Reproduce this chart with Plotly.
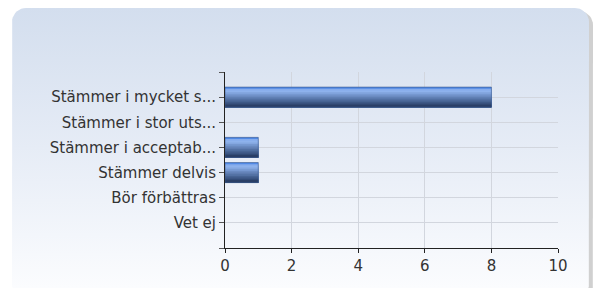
import plotly.graph_objects as go
import numpy as np

categories = ["Stämmer i mycket s...", "Stämmer i stor uts...", "Stämmer i acceptab...",
              "Stämmer delvis", "Bör förbättras", "Vet ej"]
values = [8, 0, 1, 1, 0, 0]
x_ticks = [0, 2, 4, 6, 8, 10]

W, H = 594, 288
L, R, T, B = 225, 558, 72, 248

fig = go.Figure()

# rounded card background on a full-page pixel axis (xaxis/yaxis)
def rounded_rect(x0, y0, x1, y1, r, n=10):
    xs, ys = [], []
    corners = [(x1 - r, y0 + r, -90, 0), (x1 - r, y1 - r, 0, 90),
               (x0 + r, y1 - r, 90, 180), (x0 + r, y0 + r, 180, 270)]
    for cx, cy, a0, a1 in corners:
        for a in np.linspace(np.radians(a0), np.radians(a1), n):
            xs.append(cx + r * np.cos(a))
            ys.append(cy + r * np.sin(a))
    xs.append(xs[0]); ys.append(ys[0])
    return xs, ys

sx, sy = rounded_rect(15, 11, 593, 300, 14)
fig.add_trace(go.Scatter(x=sx, y=sy, fill="toself", mode="lines", line=dict(width=0),
                         fillcolor="rgba(150,150,150,0.45)", hoverinfo="skip", showlegend=False))
cx, cy = rounded_rect(12, 8, 589, 298, 14)
fig.add_trace(go.Scatter(x=cx, y=cy, fill="toself", mode="lines", line=dict(width=0),
                         fillgradient=dict(type="vertical", start=8, stop=288,
                                           colorscale=[[0, "#d3deee"], [0.5, "#e6ecf6"], [1, "#fbfcfe"]]),
                         hoverinfo="skip", showlegend=False))

# bars with a vertical gradient built from layered bands (each drawn over the previous)
stripe_colors = ["#4f88e4", "#86acec", "#8eb2ec", "#84a7e0", "#7698d0", "#6a8ac0",
                 "#5e7cb0", "#5270a2", "#466392", "#3b5582", "#314872", "#2a3f66"]
n = len(stripe_colors)
bw = 0.8
sw = bw / n
ypos = list(range(len(categories)))
shown = [v if v else None for v in values]
for i, c in enumerate(stripe_colors):
    fig.add_trace(go.Bar(x=shown, y=ypos, orientation="h", xaxis="x2", yaxis="y2",
                         width=bw - i * sw, offset=-bw / 2 + i * sw,
                         marker=dict(color=c, line=dict(width=0)),
                         hoverinfo="skip", showlegend=False))
fig.add_trace(go.Bar(x=shown, y=ypos, orientation="h", xaxis="x2", yaxis="y2",
                     width=bw, marker=dict(color="rgba(0,0,0,0)", line=dict(color="rgba(60,90,140,0.6)", width=1)),
                     showlegend=False))

fig.update_layout(
    width=W, height=H, margin=dict(l=0, r=0, t=0, b=0),
    paper_bgcolor="white", plot_bgcolor="rgba(0,0,0,0)",
    barmode="overlay",
    font=dict(family="DejaVu Sans", size=15, color="#333333"),
    xaxis=dict(range=[0, W], visible=False, fixedrange=True, domain=[0, 1], automargin=False),
    yaxis=dict(range=[H, 0], visible=False, fixedrange=True, domain=[0, 1], automargin=False),
    xaxis2=dict(domain=[L / W, R / W], anchor="y2", range=[0, 10], tickvals=x_ticks,
                ticks="outside", ticklen=4, tickcolor="#222", showline=True, linecolor="#222",
                linewidth=1, showgrid=True, gridcolor="#d2d6de", gridwidth=1, zeroline=False,
                automargin=False, fixedrange=True,
                tickfont=dict(size=15, color="#333")),
    yaxis2=dict(domain=[1 - B / H, 1 - T / H], anchor="x2", range=[6, -1],
                tickvals=list(range(-1, len(categories) + 1)),
                ticktext=[""] + categories + [""],
                ticks="outside", ticklen=5, tickcolor="#555", showline=True, linecolor="#222",
                linewidth=1, showgrid=True, gridcolor="#d2d6de", gridwidth=1, zeroline=False,
                automargin=False, fixedrange=True,
                tickfont=dict(size=15, color="#333")),
)
fig.write_html("out.html", config={"displayModeBar": False},
               post_script="document.body.style.margin='0';document.body.style.overflow='hidden';")
